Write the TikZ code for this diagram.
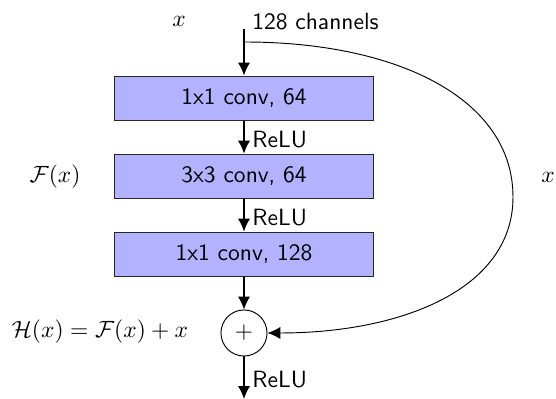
\documentclass[tikz,border=0pt]{standalone}
\usetikzlibrary{arrows.meta}
\begin{document}
\begin{tikzpicture}[x=0.4255pt,y=-0.4255pt,
  layer/.style={draw=black!85, fill=blue!30, minimum width=110.6pt,
    minimum height=19.1pt, inner sep=0pt, font=\sffamily},
  sumnode/.style={circle, draw, minimum size=19.6pt, inner sep=0pt},
  tip/.style={-{Latex[length=5.5pt,width=5.2pt]}},
  flow/.style={tip, line width=0.55pt},
  lbl/.style={font=\sffamily, anchor=west}]
\useasboundingbox (0,0) rectangle (556,399);

% main path of the bottleneck block
\coordinate (in) at (244,29);
\coordinate (split) at (244,42);
\node[layer] (c1) at (244,98.5) {1x1 conv, 64};
\node[layer] (c2) at (244,176.5) {3x3 conv, 64};
\node[layer] (c3) at (244,254.5) {1x1 conv, 128};
\node[sumnode] (add) at (244,333) {$+$};
\coordinate (out) at (244,399);

\draw[tip, line width=0.8pt] (in) -- (c1);
\draw[flow] (c1) -- node[lbl, yshift=-1pt] {ReLU} (c2);
\draw[flow] (c2) -- node[lbl, yshift=-1pt] {ReLU} (c3);
\draw[flow] (c3) -- (add);
\draw[flow] (add) -- node[lbl, yshift=-1pt] {ReLU} (out);

% identity shortcut
\draw[tip, line width=0.4pt] (split) .. controls (400,42) and (513,100) .. (513,197)
  .. controls (513,290) and (400,333) .. (add.east);

% annotations
\node (xin) at (179,21) {$x$};
\node[lbl] (ch) at (244,22) {128 channels};
\node (fx) at (55,177) {$\mathcal{F}(x)$};
\node (xs) at (548,177) {$x$};
\node (hx) at (100,332) {$\mathcal{H}(x) = \mathcal{F}(x) + x$};
\end{tikzpicture}
\end{document}
